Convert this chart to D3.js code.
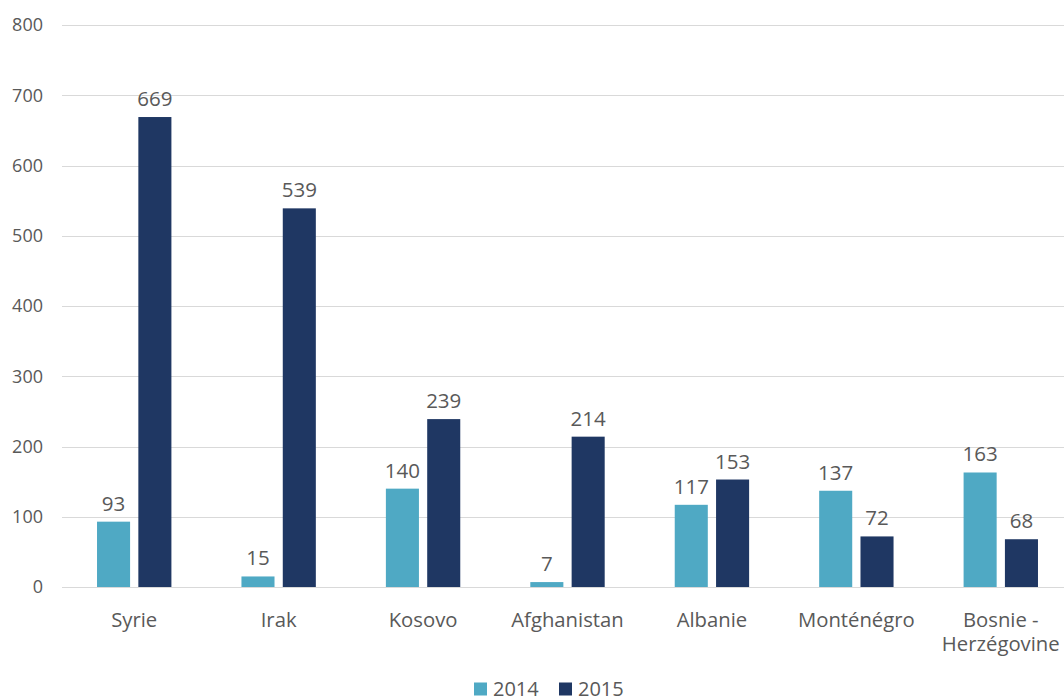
<!DOCTYPE html>
<html>
<head>
<meta charset="utf-8">
<script src="https://cdn.jsdelivr.net/npm/d3@7"></script>
<style>
  html, body { margin: 0; padding: 0; background: #fff; }
  svg { display: block; }
  text { font-family: "Open Sans", "Noto Sans", sans-serif; fill: #595959; }
</style>
</head>
<body>
<svg id="chart" width="1064" height="698"></svg>
<script>
// Pays d'origine (libellés sur deux lignes séparés par "\n")
const categories = ["Syrie", "Irak", "Kosovo", "Afghanistan", "Albanie", "Monténégro", "Bosnie -\nHerzégovine"];
const seriesNames = ["2014", "2015"];
const values2014 = [93, 15, 140, 7, 117, 137, 163];
const values2015 = [669, 539, 239, 214, 153, 72, 68];
const yTicks = [0, 100, 200, 300, 400, 500, 600, 700, 800];
const colors = ["#4FA9C4", "#1F3763"];

const svg = d3.select("#chart");
const W = 1064;
const plotLeft = 62, plotRight = 1073, plotTop = 25, plotBottom = 587;

const x = d3.scaleBand().domain(categories).range([plotLeft, plotRight]).paddingInner(0.485).paddingOuter(0.2425);
const xs = d3.scaleBand().domain(seriesNames).range([0, x.bandwidth()]).paddingInner(0.2);
const y = d3.scaleLinear().domain([0, 800]).range([plotBottom, plotTop]);

// Gridlines
svg.append("g")
  .selectAll("line")
  .data(yTicks)
  .join("line")
  .attr("x1", plotLeft).attr("x2", W)
  .attr("y1", d => Math.round(y(d)) + 0.5).attr("y2", d => Math.round(y(d)) + 0.5)
  .attr("stroke", "#d9d9d9").attr("stroke-width", 1.2);

// Y axis labels
const yAxis = svg.append("g")
  .attr("transform", `translate(${plotLeft - 19},0)`)
  .call(d3.axisLeft(y).tickValues(yTicks).tickSize(0).tickPadding(0));
yAxis.select(".domain").remove();
yAxis.selectAll("text")
  .attr("font-size", 18)
  .attr("fill", "#595959")
  .style("font-family", '"Open Sans", "Noto Sans", sans-serif');

// Bars
const data = categories.map((c, i) => ({ cat: c, vals: [
  { s: seriesNames[0], v: values2014[i] },
  { s: seriesNames[1], v: values2015[i] }
]}));

const groups = svg.append("g").selectAll("g")
  .data(data).join("g")
  .attr("transform", d => `translate(${x(d.cat)},0)`);

groups.selectAll("rect")
  .data(d => d.vals).join("rect")
  .attr("x", d => xs(d.s))
  .attr("width", xs.bandwidth())
  .attr("y", d => y(d.v))
  .attr("height", d => y(0) - y(d.v))
  .attr("fill", (d, i) => colors[i]);

groups.selectAll("text.val")
  .data(d => d.vals).join("text")
  .attr("class", "val")
  .attr("x", d => xs(d.s) + xs.bandwidth() / 2)
  .attr("y", d => y(d.v) - 11)
  .attr("text-anchor", "middle")
  .attr("font-size", 20.5)
  .attr("fill", "#404040")
  .text(d => d.v);

// Category labels
const xLab = svg.append("g");
categories.forEach(c => {
  const t = xLab.append("text")
    .attr("x", x(c) + x.bandwidth() / 2)
    .attr("y", 626.5)
    .attr("text-anchor", "middle")
    .attr("font-size", 20.3);
  c.split("\n").forEach((line, k) => {
    t.append("tspan")
      .attr("x", x(c) + x.bandwidth() / 2)
      .attr("dy", k === 0 ? 0 : 24)
      .text(line);
  });
});

// Legend
const legend = svg.append("g").attr("transform", "translate(474,682.5)");
const lx = [0, 85];
seriesNames.forEach((s, i) => {
  legend.append("rect")
    .attr("x", lx[i]).attr("y", 0)
    .attr("width", 13).attr("height", 13)
    .attr("fill", colors[i]);
  legend.append("text")
    .attr("x", lx[i] + 19).attr("y", 13.8)
    .attr("font-size", 20)
    .text(s);
});
</script>
</body>
</html>
